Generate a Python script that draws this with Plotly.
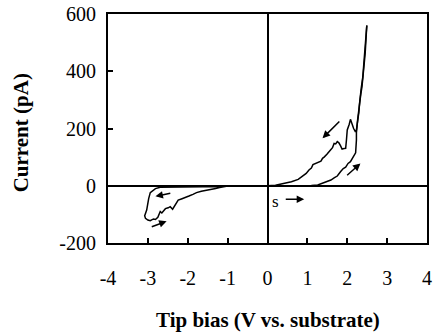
import plotly.graph_objects as go

# Forward sweep (0 -> +2.5 V), lower branch
fwd_v = [0, 0.3, 0.6, 0.9, 1.1, 1.26, 1.4, 1.5, 1.59, 1.68, 1.75, 1.83, 1.9, 1.96, 2.02, 2.08,
         2.14, 2.18, 2.21, 2.23, 2.23, 2.26, 2.29, 2.31, 2.34, 2.37, 2.41, 2.45, 2.49]
fwd_i = [0, 0, 0, 1, 1, 3, 10, 15, 20, 28, 34, 49, 60, 65, 78, 84,
         98, 108, 115, 160, 185, 230, 265, 300, 320, 346, 400, 463, 560]

# Return sweep (+2.5 V -> 0), upper branch
ret_v = [2.49, 2.44, 2.39, 2.35, 2.33, 2.31, 2.29, 2.27, 2.25, 2.23, 2.2, 2.16, 2.12, 2.08, 2.05,
         2.0, 1.98, 1.96, 1.92, 1.87, 1.83, 1.79, 1.75, 1.71, 1.67, 1.63, 1.58, 1.55, 1.49, 1.42,
         1.38, 1.34, 1.27, 1.2, 1.14, 1.1, 1.04, 0.97, 0.88, 0.77, 0.6, 0.4, 0.2, 0]
ret_i = [560, 450, 380, 340, 320, 290, 255, 240, 215, 195, 190, 200, 215, 232, 215,
         195, 160, 131, 130, 128, 140, 150, 154, 146, 148, 133, 125, 119, 110, 100,
         96, 86, 82, 78, 74, 62, 55, 43, 32, 22, 14, 7, 2, 0]

# Negative sweep loop (0 -> -3 V -> back)
neg_v = [0, -0.5, -1.0, -1.1, -1.5, -2.0, -2.4, -2.69, -2.81, -2.86, -2.94, -2.98, -3.0, -3.03,
         -3.08, -3.06, -3.0, -2.94, -2.86, -2.81, -2.75, -2.73, -2.69, -2.65, -2.61, -2.56, -2.49,
         -2.44, -2.38, -2.33, -2.28, -2.24, -2.16, -2.07, -1.97, -1.87, -1.78, -1.66, -1.55, -1.4,
         -1.3, -1.2, -1.1, -1.0, -0.5, 0]
neg_i = [0, 0, -1, -3, -4, -5, -5, -5, -10, -15, -24, -45, -65, -85,
         -105, -114, -120, -122, -116, -118, -110, -104, -90, -95, -88, -80, -77,
         -73, -82, -70, -62, -50, -46, -42, -36, -30, -24, -19, -17, -13,
         -10, -6, -3, -1, 0, 0]

x_ticks = [-4, -3, -2, -1, 0, 1, 2, 3, 4]
x_labels = ["-4", "-3", "-2", "-1", "0", "1", "2", "3", "4"]
y_ticks = [-200, 0, 200, 400, 600]
y_labels = ["-200", "0", "200", "400", "600"]

FONT = "Liberation Serif"

fig = go.Figure()
for vv, ii in [(fwd_v, fwd_i), (ret_v, ret_i), (neg_v, neg_i)]:
    fig.add_trace(go.Scatter(x=vv, y=ii, mode="lines",
                             line=dict(color="black", width=1.5), showlegend=False))

fig.update_layout(
    width=435, height=335,
    margin=dict(l=108, r=3, t=14, b=92),
    paper_bgcolor="white", plot_bgcolor="white",
    font=dict(family=FONT, size=20, color="black"),
)
for ax, rng, tv, tt, so in [(fig.update_xaxes, [-4, 4], x_ticks, x_labels, 16),
                            (fig.update_yaxes, [-200, 600], y_ticks, y_labels, 6)]:
    ax(range=rng, tickmode="array", tickvals=tv, ticktext=tt,
       showline=True, linecolor="black", linewidth=2, mirror=True,
       ticks="inside", ticklen=5, tickwidth=1.5, tickcolor="black",
       showgrid=False, zeroline=True, zerolinecolor="black", zerolinewidth=1.6,
       tickfont_family=FONT, tickfont_size=20, tickfont_color="black",
       ticklabelstandoff=so)

# Arrows (tail -> head) and annotations
arrows = [((1.84, 230), (1.38, 166)), ((1.96, 32), (2.33, 78)),
          ((-2.40, -25), (-2.81, -37)), ((-2.94, -145), (-2.53, -124)),
          ((0.42, -47), (0.92, -47))]
for (tx, ty), (hx, hy) in arrows:
    fig.add_annotation(x=hx, y=hy, ax=tx, ay=ty, xref="x", yref="y", axref="x", ayref="y",
                       showarrow=True, arrowhead=2, arrowsize=1, arrowwidth=1.5,
                       arrowcolor="black", text="")

fig.add_annotation(x=0.2, y=-55, xref="x", yref="y", text="s", showarrow=False,
                   font=dict(family=FONT, size=17, color="black"))

fig.add_annotation(x=0.5, y=-0.336, xref="paper", yref="paper",
                   text="<b>Tip bias (V vs. substrate)</b>", showarrow=False,
                   font=dict(family=FONT, size=21, color="black"),
                   xanchor="center", yanchor="middle")
fig.add_annotation(x=-0.272, y=0.48, xref="paper", yref="paper",
                   text="<b>Current (pA)</b>", showarrow=False, textangle=-90,
                   font=dict(family=FONT, size=21, color="black"),
                   xanchor="center", yanchor="middle")

fig.write_html("out.html")
